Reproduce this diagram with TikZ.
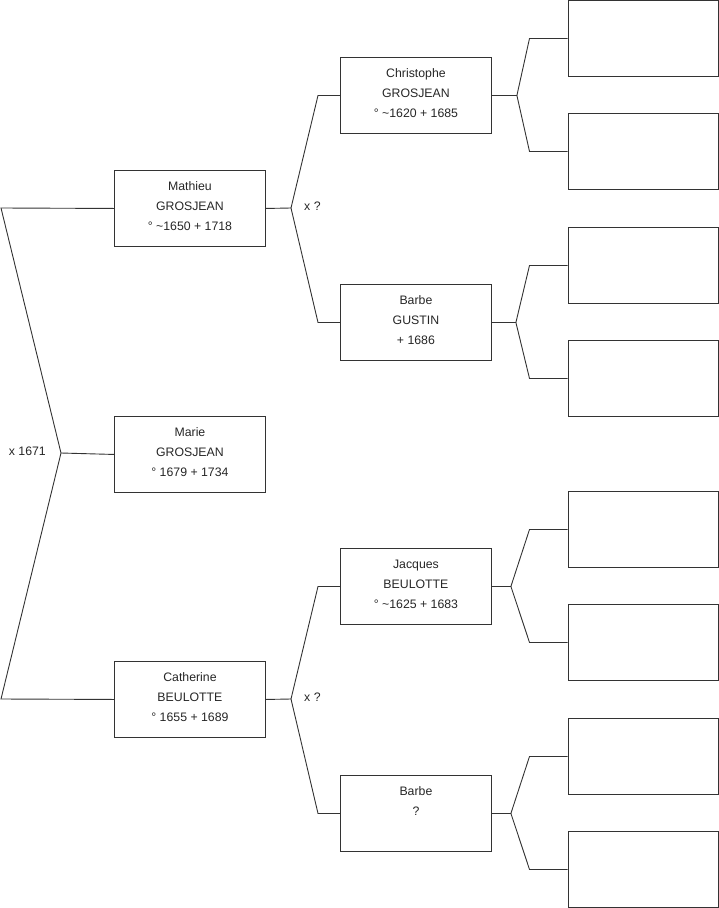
\documentclass[tikz,border=0pt]{standalone}
\usepackage{fontspec}
\setmainfont{Liberation Sans}
\usepackage{xcolor}
\usetikzlibrary{positioning, calc}
\definecolor{lineGray}{HTML}{333333}

\begin{document}
\begin{tikzpicture}[x=1pt, y=-1pt,
    person/.style={rectangle, draw=lineGray, line width=0.9pt, minimum width=151pt,
                   minimum height=76pt, inner sep=0pt, anchor=north west, align=center,
                   text=black!85, font=\fontsize{12.3}{20}\selectfont,
                   execute at end node={\rule[-4pt]{0pt}{4pt}}},
    link/.style={draw=lineGray, line width=0.9pt},
    mariage/.style={text=black!85, font=\fontsize{12.3}{20}\selectfont, inner sep=0pt}]
  \useasboundingbox (0,0) rectangle (719,908);
  % generation 1 and 2
  \node[person] (mathieu) at (114,170) {Mathieu\\GROSJEAN\\° \char`~1650 + 1718};
  \node[person] (marie) at (114,416) {Marie\\GROSJEAN\\° 1679 + 1734};
  \node[person] (catherine) at (114,661) {Catherine\\BEULOTTE\\° 1655 + 1689};
  % generation 3
  \node[person] (christophe) at (340,57) {Christophe\\GROSJEAN\\° \char`~1620 + 1685};
  \node[person] (barbeG) at (340,284) {Barbe\\GUSTIN\\+ 1686};
  \node[person] (jacques) at (340,548) {Jacques\\BEULOTTE\\° \char`~1625 + 1683};
  \node[person] (barbeQ) at (340,775) {Barbe\\?\\\mbox{}};
  % empty boxes
  \foreach \n/\y in {a1/0, a2/113, a3/227, a4/340, a5/491, a6/604, a7/718, a8/831}
    { \node[person, minimum width=150.5pt] (\n) at (567.5,\y) {}; }

  % left fork
  \coordinate (topL) at (1,208);
  \coordinate (botL) at (1,699);
  \coordinate (fkL) at (61,453);
  \draw[link] (mathieu.west) -- (topL) -- (fkL) -- (botL) -- (catherine.west);
  \draw[link] (fkL) -- (marie.west);
  \node[mariage, anchor=east] (m1) at (46,451) {x 1671};

  % parents of Mathieu and Catherine
  \coordinate (fkM) at (291,208);
  \coordinate (fkC) at (291,699);
  \draw[link] (mathieu.east) -- (fkM) -- ($(christophe.west)+(-22,0)$) -- (christophe.west);
  \draw[link] (fkM) -- ($(barbeG.west)+(-22,0)$) -- (barbeG.west);
  \draw[link] (catherine.east) -- (fkC) -- ($(jacques.west)+(-22,0)$) -- (jacques.west);
  \draw[link] (fkC) -- ($(barbeQ.west)+(-22,0)$) -- (barbeQ.west);
  \node[mariage, anchor=west] (m2) at (304,206) {x ?};
  \node[mariage, anchor=west] (m3) at (304,697) {x ?};

  % grandparents
  \foreach \p/\u/\d/\w in {christophe/a1/a2/25, barbeG/a3/a4/24, jacques/a5/a6/19, barbeQ/a7/a8/19}
    {
      \coordinate (f\p) at ($(\p.east)+(\w,0)$);
      \draw[link] (\p.east) -- (f\p) -- ($(\u.west)+(-38,0)$) -- (\u.west);
      \draw[link] (f\p) -- ($(\d.west)+(-38,0)$) -- (\d.west);
    }
\end{tikzpicture}
\end{document}
